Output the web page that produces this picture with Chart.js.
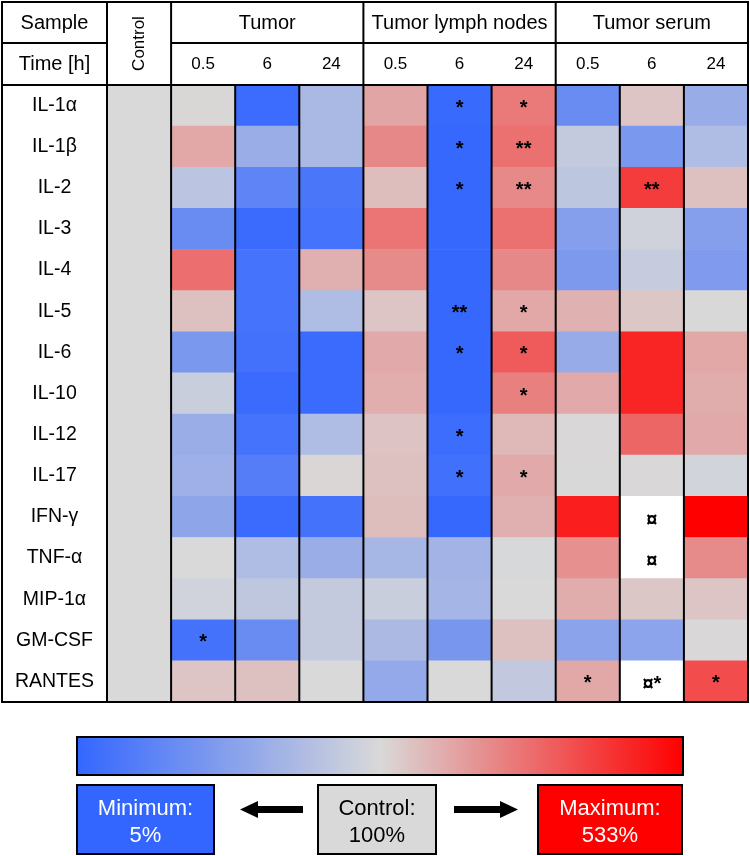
<!DOCTYPE html>
<html lang="en">
<head>
<meta charset="UTF-8">
<title>Cytokine heatmap</title>
<style>
  body { margin: 0; padding: 0; background: #fff; }
  canvas { display: block; }
</style>
<script src="https://cdn.jsdelivr.net/npm/chart.js"></script>
</head>
<body>
<canvas id="heatmap" width="750" height="856"></canvas>
<script>
const cytokines = ['IL-1α', 'IL-1β', 'IL-2', 'IL-3', 'IL-4', 'IL-5', 'IL-6', 'IL-10', 'IL-12', 'IL-17', 'IFN-γ', 'TNF-α', 'MIP-1α', 'GM-CSF', 'RANTES'];
const groups = ['Tumor', 'Tumor lymph nodes', 'Tumor serum'];
const timeLabels = ['0.5', '6', '24'];

// values in % of control, null = not measured (white cell)
const control = [100, 100, 100, 100, 100, 100, 100, 100, 100, 100, 100, 100, 100, 100, 100];
const tumor05 = [105, 198, 83, 36, 314, 150, 46, 91, 64, 66, 57, 100, 95, 15, 140];
const tumor6  = [10, 64, 30, 9, 16, 16, 14, 9, 16, 24, 9, 76, 85, 36, 148];
const tumor24 = [73, 73, 18, 16, 182, 76, 9, 9, 76, 106, 15, 64, 88, 88, 100];
const lymph05 = [204, 262, 156, 300, 258, 140, 195, 188, 143, 150, 155, 71, 91, 74, 60];
const lymph6  = [8, 7, 7, 7, 7, 7, 7, 7, 11, 13, 7, 69, 70, 45, 100];
const lymph24 = [290, 310, 260, 310, 262, 198, 353, 278, 166, 195, 182, 99, 100, 150, 87];
const serum05 = [36, 88, 84, 52, 47, 180, 62, 195, 103, 102, 473, 246, 190, 55, 198];
const serum6  = [140, 46, 413, 94, 89, 135, 460, 460, 330, 104, null, null, 135, 56, null];
const serum24 = [63, 76, 150, 52, 49, 102, 198, 190, 195, 96, 533, 258, 140, 104, 382];

// significance marks
const tumor05Marks = ['', '', '', '', '', '', '', '', '', '', '', '', '', '*', ''];
const lymph6Marks  = ['*', '*', '*', '', '', '**', '*', '', '*', '*', '', '', '', '', ''];
const lymph24Marks = ['*', '**', '**', '', '', '*', '*', '*', '', '*', '', '', '', '', ''];
const serum05Marks = ['', '', '', '', '', '', '', '', '', '', '', '', '', '', '*'];
const serum6Marks  = ['', '', '**', '', '', '', '', '', '', '', '¤', '¤', '', '', '¤*'];
const serum24Marks = ['', '', '', '', '', '', '', '', '', '', '', '', '', '', '*'];

const minValue = 5, controlValue = 100, maxValue = 533;

const columns = [control, tumor05, tumor6, tumor24, lymph05, lymph6, lymph24, serum05, serum6, serum24];
const marks = [null, tumor05Marks, null, null, null, lymph6Marks, lymph24Marks, serum05Marks, serum6Marks, serum24Marks];

const BLUE = [51, 102, 255], GREY = [217, 217, 217], RED = [255, 0, 0];
const FONT = '"Liberation Sans", Arial, sans-serif';

function mix(a, b, t) {
  t = Math.max(0, Math.min(1, t));
  return 'rgb(' + a.map((c, i) => Math.round(c + (b[i] - c) * t)).join(',') + ')';
}

function colorFor(v) {
  if (v === null) return '#ffffff';
  if (v < controlValue) return mix(GREY, BLUE, (controlValue - v) / (controlValue - minValue));
  return mix(GREY, RED, (v - controlValue) / (maxValue - controlValue));
}

const datasets = columns.map(vals => ({
  data: vals.map(() => 1),
  backgroundColor: vals.map(colorFor),
  borderWidth: 0,
  barPercentage: 1,
  categoryPercentage: 1,
  stack: 'cells'
}));

function line(ctx, x1, y1, x2, y2) {
  ctx.beginPath();
  ctx.moveTo(x1, y1);
  ctx.lineTo(x2, y2);
  ctx.stroke();
}

const tablePlugin = {
  id: 'table',
  afterDatasetsDraw(chart) {
    const ctx = chart.ctx;
    const xs = chart.scales.x, ys = chart.scales.y;
    const top = 2, mid = 43, head = chart.chartArea.top, bottom = chart.chartArea.bottom;
    const left = 2, right = chart.chartArea.right;
    const colX = [];
    for (let k = 0; k <= columns.length; k++) colX.push(xs.getPixelForValue(k));

    ctx.save();
    ctx.strokeStyle = '#000';
    ctx.lineWidth = 2;
    ctx.strokeRect(left, top, right - left, bottom - top);
    line(ctx, left, mid, colX[0], mid);
    line(ctx, colX[1], mid, right, mid);
    line(ctx, left, head, right, head);
    colX.forEach((x, k) => {
      if (k === 0 || k === columns.length || (k - 1) % 3 === 0) {
        line(ctx, x, top, x, bottom);
      } else {
        line(ctx, x, head, x, bottom);
      }
    });

    ctx.fillStyle = '#000';
    ctx.textAlign = 'center';
    ctx.textBaseline = 'middle';
    ctx.font = '20px ' + FONT;
    ctx.fillText('Sample', (left + colX[0]) / 2, 23);
    ctx.fillText('Time [h]', (left + colX[0]) / 2, 64);
    groups.forEach((g, i) => {
      ctx.fillText(g, (colX[1 + i * 3] + colX[4 + i * 3]) / 2, 23);
    });
    ctx.font = '17px ' + FONT;
    for (let k = 1; k < columns.length; k++) {
      ctx.fillText(timeLabels[(k - 1) % 3], (colX[k] + colX[k + 1]) / 2, 64);
    }
    ctx.save();
    ctx.translate((colX[0] + colX[1]) / 2, (top + head) / 2);
    ctx.rotate(-Math.PI / 2);
    ctx.fillText('Control', 0, 0);
    ctx.restore();

    ctx.font = '19.5px ' + FONT;
    cytokines.forEach((c, i) => {
      ctx.fillText(c, (left + colX[0]) / 2, ys.getPixelForValue(i));
    });

    ctx.font = 'bold 20px ' + FONT;
    ctx.textBaseline = 'alphabetic';
    marks.forEach((m, k) => {
      if (!m) return;
      m.forEach((s, i) => {
        if (!s) return;
        const yc = ys.getPixelForValue(i);
        ctx.fillText(s, (colX[k] + colX[k + 1]) / 2, yc + (s.startsWith('¤') ? 9 : 8));
      });
    });
    ctx.restore();
  },
  afterDraw(chart) {
    const ctx = chart.ctx;
    ctx.save();
    ctx.strokeStyle = '#000';
    ctx.lineWidth = 2;

    // gradient bar
    const gx1 = 77, gx2 = 683, gy = 737, gh = 38;
    const grad = ctx.createLinearGradient(gx1, 0, gx2, 0);
    for (let i = 0; i <= 40; i++) {
      const t = i / 40;
      const v = t < 0.5 ? minValue + (controlValue - minValue) * t / 0.5
                        : controlValue + (maxValue - controlValue) * (t - 0.5) / 0.5;
      grad.addColorStop(t, colorFor(v));
    }
    ctx.fillStyle = grad;
    ctx.fillRect(gx1, gy, gx2 - gx1, gh);
    ctx.strokeRect(gx1, gy, gx2 - gx1, gh);

    // boxes
    const boxes = [
      { x: 77, w: 137, fill: '#3366ff', color: '#fff', l1: 'Minimum:', l2: minValue + '%' },
      { x: 318, w: 118, fill: '#d9d9d9', color: '#000', l1: 'Control:', l2: controlValue + '%' },
      { x: 538, w: 144, fill: '#ff0000', color: '#fff', l1: 'Maximum:', l2: maxValue + '%' }
    ];
    const by = 785, bh = 69;
    ctx.font = '22px ' + FONT;
    ctx.textAlign = 'center';
    ctx.textBaseline = 'alphabetic';
    boxes.forEach(b => {
      ctx.fillStyle = b.fill;
      ctx.fillRect(b.x, by, b.w, bh);
      ctx.strokeRect(b.x, by, b.w, bh);
      ctx.fillStyle = b.color;
      ctx.fillText(b.l1, b.x + b.w / 2, 815);
      ctx.fillText(b.l2, b.x + b.w / 2, 842);
    });

    // arrows
    ctx.fillStyle = '#000';
    ctx.fillRect(257, 806, 46, 7);
    ctx.beginPath();
    ctx.moveTo(240, 809.5);
    ctx.lineTo(258, 801);
    ctx.lineTo(258, 818);
    ctx.closePath();
    ctx.fill();
    ctx.fillRect(454, 806, 47, 7);
    ctx.beginPath();
    ctx.moveTo(518, 809.5);
    ctx.lineTo(500, 801);
    ctx.lineTo(500, 818);
    ctx.closePath();
    ctx.fill();
    ctx.restore();
  }
};

new Chart(document.getElementById('heatmap'), {
  type: 'bar',
  data: { labels: cytokines, datasets: datasets },
  options: {
    indexAxis: 'y',
    responsive: false,
    animation: false,
    layout: { padding: { left: 107, right: 2, top: 85, bottom: 154 } },
    scales: {
      x: { display: false, stacked: true, min: 0, max: columns.length },
      y: { display: false, stacked: true }
    },
    plugins: { legend: { display: false }, tooltip: { enabled: false } }
  },
  plugins: [tablePlugin]
});
</script>
</body>
</html>
